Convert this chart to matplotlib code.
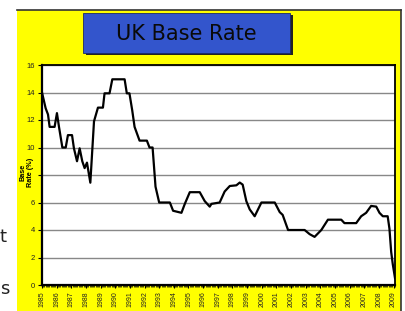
import matplotlib
matplotlib.use("Agg")
import matplotlib.pyplot as plt
from matplotlib.patches import Rectangle
from matplotlib.lines import Line2D
from matplotlib.ticker import MultipleLocator

# ---- data ----
dates = [1985.00, 1985.25, 1985.41, 1985.52, 1985.86, 1986.02, 1986.16, 1986.39, 1986.62,
         1986.77, 1987.05, 1987.18, 1987.39, 1987.57, 1987.75, 1987.91, 1988.07, 1988.30,
         1988.55, 1988.82, 1989.16, 1989.27, 1989.61, 1989.80, 1990.64, 1990.79, 1990.97,
         1991.16, 1991.32, 1991.66, 1992.16, 1992.34, 1992.55, 1992.75, 1993.00, 1993.73,
         1993.95, 1994.52, 1994.75, 1995.09, 1995.77, 1996.11, 1996.45, 1996.57, 1997.13,
         1997.47, 1997.82, 1998.27, 1998.50, 1998.70, 1998.95, 1999.18, 1999.52, 1999.98,
         2000.89, 2001.23, 2001.43, 2001.80, 2002.93, 2003.27, 2003.61, 2004.07, 2004.52,
         2005.43, 2005.65, 2006.45, 2006.79, 2007.13, 2007.47, 2007.82, 2008.04, 2008.27,
         2008.60, 2008.72, 2008.84, 2008.95, 2009.10]
rates = [14.0, 12.85, 12.4, 11.5, 11.5, 12.5, 11.5, 10.0, 10.0,
         10.9, 10.9, 9.94, 9.0, 9.94, 9.0, 8.5, 8.9, 7.44,
         11.9, 12.9, 12.9, 13.94, 13.94, 14.96, 14.96, 13.94, 13.94,
         12.7, 11.5, 10.5, 10.5, 10.0, 10.0, 7.15, 6.0, 6.0,
         5.4, 5.25, 5.9, 6.75, 6.75, 6.1, 5.7, 5.9, 6.0,
         6.8, 7.2, 7.25, 7.45, 7.3, 6.1, 5.5, 5.0, 6.0,
         6.0, 5.3, 5.1, 4.0, 4.0, 3.7, 3.5, 4.0, 4.75,
         4.75, 4.5, 4.5, 5.0, 5.25, 5.75, 5.7, 5.25, 5.0,
         5.0, 4.1, 2.4, 1.5, 0.5]
year_labels = [str(y) for y in range(1985, 2010)]
y_ticks = [0, 2, 4, 6, 8, 10, 12, 14, 16]
y_tick_labels = ["0", "2", "4", "6", "", "10", "12", "14", "16"]  # "8" hidden by axis title
title_text = "UK Base Rate"
y_title = "Base\nRate (%)"

W, H = 406, 311
fig = plt.figure(figsize=(W / 100, H / 100), dpi=100)
fig.patch.set_facecolor("white")

def fx(x):
    return x / W

def fy(y):
    return 1 - y / H

# yellow slide panel
fig.patches.append(Rectangle((fx(17), 0), fx(401) - fx(17), fy(10), transform=fig.transFigure,
                             facecolor="#FFFF00", edgecolor="none", zorder=0))
fig.lines.append(Line2D([fx(17), fx(401)], [fy(10), fy(10)], transform=fig.transFigure,
                        color="#333333", lw=1.2, zorder=1))
fig.lines.append(Line2D([fx(401), fx(401)], [fy(10), 0], transform=fig.transFigure,
                        color="#333333", lw=1.2, zorder=1))

# title box with shadow
fig.patches.append(Rectangle((fx(86), fy(55)), fx(290) - fx(83), fy(13) - fy(53),
                             transform=fig.transFigure, facecolor="#222222",
                             edgecolor="none", zorder=1))
fig.patches.append(Rectangle((fx(83), fy(53)), fx(290) - fx(83), fy(13) - fy(53),
                             transform=fig.transFigure, facecolor="#3355CC",
                             edgecolor="#1a2a66", lw=0.6, zorder=2))
fig.text(fx(186.5), fy(34), title_text, ha="center", va="center", fontsize=15,
         color="#0a0a0a", family="DejaVu Sans", zorder=3)

# slide text fragments on the left
fig.text(fx(0), fy(242), "t", ha="left", va="baseline", fontsize=13, color="#222222",
         family="DejaVu Sans")
fig.text(fx(0), fy(294), "s", ha="left", va="baseline", fontsize=13, color="#222222",
         family="DejaVu Sans")

# chart
ax = fig.add_axes([fx(42), fy(285), fx(395) - fx(42), fy(65) - fy(285)])
ax.set_zorder(5)
ax.set_facecolor("white")
ax.plot(dates, rates, color="black", lw=1.6, solid_joinstyle="round", zorder=3)
ax.set_xlim(1985.0, 2009.1)
ax.set_ylim(0, 16)
ax.set_yticks(y_ticks)
ax.set_yticklabels(y_tick_labels, fontsize=5.5, family="Liberation Sans",
                   color="#222222")
ax.set_xticks(list(range(1985, 2010)))
ax.set_xticklabels(year_labels, rotation=90, fontsize=5, family="Liberation Sans",
                   va="top", color="#222222")
ax.xaxis.set_minor_locator(MultipleLocator(1 / 12))
ax.tick_params(axis="x", which="major", length=2.5, width=0.8, pad=2)
ax.tick_params(axis="x", which="minor", length=1.5, width=0.5)
ax.tick_params(axis="y", which="major", length=3, width=0.8, pad=2)
ax.grid(axis="y", color="#888888", lw=1.0, zorder=1)
for s in ["left", "bottom"]:
    ax.spines[s].set_linewidth(1.6)
for s in ["top", "right"]:
    ax.spines[s].set_linewidth(1.3)
for s in ax.spines.values():
    s.set_color("black")
ax.set_ylabel(y_title, fontsize=5.2, fontweight="bold",
              family="Liberation Sans", linespacing=1.1)
ax.yaxis.set_label_coords(-0.024, 0.51)

fig.savefig("out.png", dpi=100)
